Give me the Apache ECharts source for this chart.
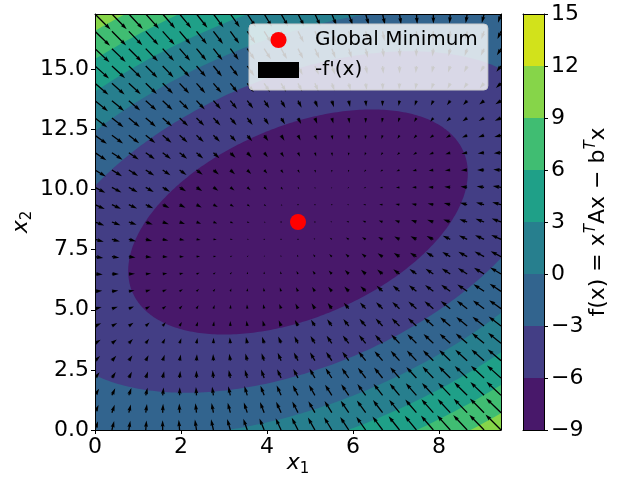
<!DOCTYPE html>
<html>
<head>
<meta charset="utf-8">
<title>Quadratic descent field</title>
<script src="https://cdn.jsdelivr.net/npm/echarts@6.0.0/dist/echarts.min.js"></script>
<style>
  html, body { margin: 0; padding: 0; background: #ffffff; }
  #chart { width: 618px; height: 486px; }
</style>
</head>
<body>
<div id="chart"></div>
<script>
// f(x) = x^T A x - b^T x
const A = [[0.1823, -0.067], [-0.067, 0.1298]];
const b = [0.5618, 1.6131];

// filled contour levels (also the colorbar ticks) and the colour of each band
const levels = [-9, -6, -3, 0, 3, 6, 9, 12, 15];
const bandColors = ['#48186a', '#433e85', '#32648e', '#277f8e', '#1fa088', '#40bd72', '#86d549', '#d2e21b'];

// axis tick values
const xTickValues = [0, 2, 4, 6, 8];
const yTickValues = [0, 2.5, 5, 7.5, 10, 12.5, 15];

// arrows per axis in the gradient field
const quiverCount = 25;

const FONT = 'DejaVu Sans';

// symmetric part of A, minimiser and minimum value
const s11 = A[0][0], s22 = A[1][1], s12 = (A[0][1] + A[1][0]) / 2;
function f(x1, x2) {
  return s11 * x1 * x1 + 2 * s12 * x1 * x2 + s22 * x2 * x2 - b[0] * x1 - b[1] * x2;
}
function negGrad(x1, x2) {
  return [b[0] - 2 * (s11 * x1 + s12 * x2), b[1] - 2 * (s12 * x1 + s22 * x2)];
}
const detH = 4 * (s11 * s22 - s12 * s12);
const xMin = [(2 * s22 * b[0] - 2 * s12 * b[1]) / detH, (2 * s11 * b[1] - 2 * s12 * b[0]) / detH];
const fMin = f(xMin[0], xMin[1]);
const x1Max = 2 * xMin[0], x2Max = 2 * xMin[1];

// principal axes of the quadratic form
const phi = 0.5 * Math.atan2(2 * s12, s11 - s22);
const cphi = Math.cos(phi), sphi = Math.sin(phi);
const lam1 = s11 * cphi * cphi + 2 * s12 * sphi * cphi + s22 * sphi * sphi;
const lam2 = s11 * sphi * sphi - 2 * s12 * sphi * cphi + s22 * cphi * cphi;

// boundary of the sublevel set {f <= L}
function levelSet(L, n) {
  const r = Math.sqrt(Math.max(L - fMin, 0));
  const a1 = r / Math.sqrt(lam1), a2 = r / Math.sqrt(lam2);
  const pts = [];
  for (let k = 0; k < n; k++) {
    const t = 2 * Math.PI * k / n;
    const u = a1 * Math.cos(t), v = a2 * Math.sin(t);
    pts.push([xMin[0] + u * cphi - v * sphi, xMin[1] + u * sphi + v * cphi]);
  }
  return pts;
}

// bands painted from the outermost level inwards
const bandOrder = [];
for (let k = levels.length - 2; k >= 0; k--) bandOrder.push([k]);
const colorbarData = levels.slice(0, -1).map((_, k) => [k]);

// descent directions on a regular grid
const quiverData = [];
for (let i = 0; i < quiverCount; i++) {
  for (let j = 0; j < quiverCount; j++) {
    const x1 = x1Max * j / (quiverCount - 1);
    const x2 = x2Max * i / (quiverCount - 1);
    const g = negGrad(x1, x2);
    quiverData.push([x1, x2, g[0], g[1]]);
  }
}
const meanMag = quiverData.reduce((acc, d) => acc + Math.hypot(d[2], d[3]), 0) / quiverData.length;

function renderBand(params, api) {
  const k = api.value(0);
  const L = levels[k + 1];
  if (L <= fMin) return null;
  const pts = levelSet(L, 360).map(p => api.coord(p));
  return { type: 'polygon', z2: 20 - k, shape: { points: pts }, style: { fill: bandColors[k] } };
}

function renderArrow(params, api) {
  const x = api.value(0), y = api.value(1), u = api.value(2), v = api.value(3);
  const p = api.coord([x, y]);
  const pw = api.coord([x1Max, 0])[0] - api.coord([0, 0])[0];
  const n = quiverCount * quiverCount;
  const w = 0.08 * pw / Math.min(Math.max(Math.sqrt(n), 8), 25);   // shaft width
  const scale = 1.8 * meanMag * Math.max(10, Math.sqrt(n));
  const len = Math.hypot(u, v) / scale * pw / w;                     // in shaft widths
  let X, Y;
  if (len < 1) {
    X = []; Y = [];
    for (let k = 0; k < 8; k++) { X.push(0.5 * Math.cos(k * Math.PI / 3)); Y.push(0.5 * Math.sin(k * Math.PI / 3)); }
  } else if (len < 5) {
    const sh = len / 5;
    X = [0, 0.5, 0, 5, 0, 0.5, 0, 0].map(t => t * sh);
    Y = [0.5, 0.5, 1.5, 0, -1.5, -0.5, -0.5, 0.5].map(t => t * sh);
  } else {
    X = [0, len - 4.5, len - 5, len, len - 5, len - 4.5, 0, 0];
    Y = [0.5, 0.5, 1.5, 0, -1.5, -0.5, -0.5, 0.5];
  }
  const th = Math.atan2(v, u), ct = Math.cos(th), st = Math.sin(th);
  const points = X.map((xx, k) => [p[0] + w * (xx * ct - Y[k] * st), p[1] - w * (xx * st + Y[k] * ct)]);
  return { type: 'polygon', shape: { points }, style: { fill: '#000000' } };
}

function renderColorbar(params, api) {
  const k = api.value(0);
  const p0 = api.coord([0, levels[k]]);
  const p1 = api.coord([1, levels[k + 1]]);
  return {
    type: 'rect',
    shape: { x: p0[0], y: p1[1], width: p1[0] - p0[0], height: p0[1] - p1[1] },
    style: { fill: bandColors[k] }
  };
}

const minus = v => (v < 0 ? '\u2212' + Math.abs(v) : String(v));
const frameAxis = { show: true, onZero: false, lineStyle: { color: '#000', width: 1 } };
const tickStyle = { show: true, inside: false, length: 4, lineStyle: { color: '#000', width: 1 } };
const labelBase = { fontSize: 22, color: '#000', fontFamily: FONT };
const subRich = {
  i: { fontSize: 22, fontStyle: 'italic', fontFamily: FONT, color: '#000', lineHeight: 28, verticalAlign: 'middle' },
  s: { fontSize: 15, fontFamily: FONT, color: '#000', lineHeight: 15, verticalAlign: 'bottom' }
};

const chart = echarts.init(document.getElementById('chart'), null, { renderer: 'canvas' });
chart.setOption({
  animation: false,
  textStyle: { fontFamily: FONT },
  grid: [
    { left: 95, top: 14, width: 406, height: 416, outerBoundsMode: 'none', containLabel: false },
    { left: 523, top: 14, width: 21, height: 416, outerBoundsMode: 'none', containLabel: false }
  ],
  xAxis: [
    {
      type: 'value', gridIndex: 0, min: 0, max: x1Max, position: 'bottom', z: 10,
      axisLine: frameAxis,
      axisTick: Object.assign({ customValues: xTickValues }, tickStyle),
      axisLabel: Object.assign({ customValues: xTickValues, margin: 6 }, labelBase),
      splitLine: { show: false },
      name: '{i|x}{s|1}', nameLocation: 'middle', nameGap: 19, nameMoveOverlap: false,
      nameTextStyle: { rich: subRich }
    },
    {
      type: 'value', gridIndex: 0, min: 0, max: x1Max, position: 'top', z: 10,
      axisLine: frameAxis, axisTick: { show: false }, axisLabel: { show: false }, splitLine: { show: false }
    },
    {
      type: 'value', gridIndex: 1, min: 0, max: 1, position: 'bottom', z: 10,
      axisLine: frameAxis, axisTick: { show: false }, axisLabel: { show: false }, splitLine: { show: false }
    },
    {
      type: 'value', gridIndex: 1, min: 0, max: 1, position: 'top', z: 10,
      axisLine: frameAxis, axisTick: { show: false }, axisLabel: { show: false }, splitLine: { show: false }
    }
  ],
  yAxis: [
    {
      type: 'value', gridIndex: 0, min: 0, max: x2Max, position: 'left', z: 10,
      axisLine: frameAxis,
      axisTick: Object.assign({ customValues: yTickValues }, tickStyle),
      axisLabel: Object.assign({ customValues: yTickValues, margin: 6, formatter: v => v.toFixed(1) }, labelBase),
      splitLine: { show: false },
      name: '{i|x}{s|2}', nameLocation: 'middle', nameGap: 60, nameRotate: 90, nameMoveOverlap: false,
      nameTextStyle: { rich: subRich }
    },
    {
      type: 'value', gridIndex: 0, min: 0, max: x2Max, position: 'right', z: 10,
      axisLine: frameAxis, axisTick: { show: false }, axisLabel: { show: false }, splitLine: { show: false }
    },
    {
      type: 'value', gridIndex: 1, min: levels[0], max: levels[levels.length - 1], interval: 3,
      position: 'right', z: 10,
      axisLine: frameAxis,
      axisTick: Object.assign({ customValues: levels }, tickStyle),
      axisLabel: Object.assign({ customValues: levels, margin: 7, formatter: minus }, labelBase),
      splitLine: { show: false },
      name: 'f(x) = x{t|T}Ax \u2212 b{t|T}x', nameLocation: 'middle', nameGap: 40, nameRotate: 90,
      nameMoveOverlap: false,
      nameTextStyle: {
        fontSize: 22, color: '#000', fontFamily: FONT, lineHeight: 28,
        rich: { t: { fontSize: 15, fontStyle: 'italic', fontFamily: FONT, color: '#000', lineHeight: 15, verticalAlign: 'top' } }
      }
    },
    {
      type: 'value', gridIndex: 1, min: levels[0], max: levels[levels.length - 1], position: 'left', z: 10,
      axisLine: frameAxis, axisTick: { show: false }, axisLabel: { show: false }, splitLine: { show: false }
    }
  ],
  legend: {
    orient: 'vertical', left: 249, top: 24,
    itemWidth: 41, itemHeight: 16, itemGap: 6,
    padding: [4, 10, 8, 9],
    backgroundColor: 'rgba(255,255,255,0.8)', borderColor: '#cccccc', borderWidth: 1, borderRadius: 4,
    selectedMode: false,
    textStyle: { fontSize: 20, color: '#000', fontFamily: FONT, lineHeight: 24, padding: [0, 0, 0, 11] },
    data: [{ name: 'Global Minimum', icon: 'circle' }, { name: "-f'(x)", icon: 'rect' }]
  },
  series: [
    {
      type: 'custom', name: 'contours', xAxisIndex: 0, yAxisIndex: 0, clip: true, silent: true, z: 1,
      renderItem: renderBand, data: bandOrder, encode: { x: [], y: [] }
    },
    {
      type: 'custom', name: "-f'(x)", xAxisIndex: 0, yAxisIndex: 0, clip: true, silent: true, z: 2,
      itemStyle: { color: '#000000' },
      renderItem: renderArrow, data: quiverData, encode: { x: 0, y: 1 }
    },
    {
      type: 'scatter', name: 'Global Minimum', xAxisIndex: 0, yAxisIndex: 0, z: 3,
      symbol: 'circle', symbolSize: 16, itemStyle: { color: '#ff0000', opacity: 1 },
      data: [[xMin[0], xMin[1]]]
    },
    {
      type: 'custom', name: 'colorbar', xAxisIndex: 2, yAxisIndex: 2, silent: true,
      renderItem: renderColorbar, data: colorbarData, encode: { x: [], y: [] }
    }
  ]
});
</script>
</body>
</html>
